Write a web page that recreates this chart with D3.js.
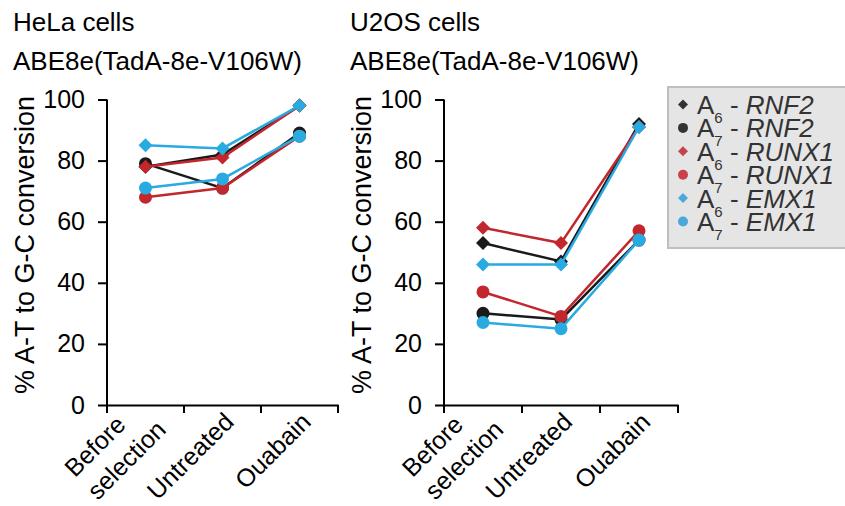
<!DOCTYPE html>
<html lang="en">
<head>
<meta charset="UTF-8">
<title>ABE8e conversion</title>
<script src="https://d3js.org/d3.v7.min.js"></script>
<style>
    body { margin: 0; background: #fff; }
    text { font-family: Arial, "Liberation Sans", sans-serif; }
    .axis path, .axis line { stroke: #000; stroke-width: 2px; }
    .axis text { font-size: 25px; fill: #000; }
</style>
</head>
<body>
<script>
    var width = 845, height = 506;

    var categories = [["Before", "selection"], ["Untreated"], ["Ouabain"]];
    var yTicks = [0, 20, 40, 60, 80, 100];

    var seriesNames = ["RNF2", "RNF2", "RUNX1", "RUNX1", "EMX1", "EMX1"];
    var seriesSites = ["6", "7", "6", "7", "6", "7"];
    var seriesShapes = ["diamond", "circle", "diamond", "circle", "diamond", "circle"];
    var seriesColors = ["#1a1a1a", "#1a1a1a", "#c1272d", "#c1272d", "#29abe2", "#29abe2"];
    var legendColors = ["#333333", "#333333", "#c8424c", "#c8424c", "#4aa9da", "#4aa9da"];

    // HeLa cells
    var helaA6RNF2 = [78, 82, 98];
    var helaA7RNF2 = [79, 71, 89];
    var helaA6RUNX1 = [78, 81, 98];
    var helaA7RUNX1 = [68, 71, 88];
    var helaA6EMX1 = [85, 84, 98];
    var helaA7EMX1 = [71, 74, 88];

    // U2OS cells
    var u2osA6RNF2 = [53, 47, 92];
    var u2osA7RNF2 = [30, 28, 54];
    var u2osA6RUNX1 = [58, 53, 91];
    var u2osA7RUNX1 = [37, 29, 57];
    var u2osA6EMX1 = [46, 46, 91];
    var u2osA7EMX1 = [27, 25, 54];

    var panels = [
        {title: "HeLa cells", left: 107, right: 338,
         series: [helaA6RNF2, helaA7RNF2, helaA6RUNX1, helaA7RUNX1, helaA6EMX1, helaA7EMX1]},
        {title: "U2OS cells", left: 444, right: 678,
         series: [u2osA6RNF2, u2osA7RNF2, u2osA6RUNX1, u2osA7RUNX1, u2osA6EMX1, u2osA7EMX1]}
    ];

    var svg = d3.select("body").append("svg")
        .attr("width", width)
        .attr("height", height);

    var y = d3.scaleLinear().domain([0, 100]).range([405, 99.5]);

    var diamond = d3.symbol().type(d3.symbolSquare).size(98);

    panels.forEach(function(p) {
        var x = d3.scaleBand()
            .domain(d3.range(categories.length))
            .range([p.left, p.right]);

        var titleX = p.left - 94;
        svg.append("text").attr("x", titleX).attr("y", 31)
            .style("font-size", "26px").text(p.title);
        svg.append("text").attr("x", titleX).attr("y", 70)
            .style("font-size", "26px").text("ABE8e(TadA-8e-V106W)");

        svg.append("text")
            .attr("transform", "translate(" + (p.left - 73) + ",245) rotate(-90)")
            .attr("text-anchor", "middle")
            .style("font-size", "27px")
            .text("% A-T to G-C conversion");

        var yAxis = svg.append("g").attr("class", "axis")
            .attr("transform", "translate(" + p.left + ",0)")
            .call(d3.axisLeft(y).tickValues(yTicks).tickSize(9).tickSizeOuter(0).tickPadding(13));
        yAxis.select(".domain").attr("d", "M0," + y(100) + "V" + y(0));

        var xAxis = svg.append("g").attr("class", "axis")
            .attr("transform", "translate(0,405)")
            .call(d3.axisBottom(x).tickValues([]).tickSizeOuter(0));
        xAxis.selectAll(".tk").data(d3.range(categories.length + 1)).enter()
            .append("line").attr("class", "tk")
            .attr("x1", function(i) { return p.left + i * x.step(); })
            .attr("x2", function(i) { return p.left + i * x.step(); })
            .attr("y1", 0).attr("y2", 8);

        categories.forEach(function(lines, i) {
            var cx = x(i) + x.bandwidth() / 2;
            var g = svg.append("text")
                .attr("transform", "translate(" + cx + ",405) rotate(-45)")
                .style("font-size", "25px");
            if (lines.length === 1) {
                g.attr("text-anchor", "end")
                    .append("tspan").attr("x", -4).attr("y", 22).text(lines[0]);
            } else {
                var spans = lines.map(function(l, k) {
                    return g.append("tspan").attr("y", k === 0 ? 2 : 34).text(l);
                });
                var w = d3.max(spans, function(s) { return s.node().getComputedTextLength(); });
                spans.forEach(function(s) { s.attr("x", -3 - w); });
            }
        });

        var line = d3.line()
            .x(function(d, i) { return x(i) + x.bandwidth() / 2; })
            .y(function(d) { return y(d); });

        p.series.forEach(function(values, s) {
            var grp = svg.append("g");
            grp.append("path")
                .attr("d", line(values))
                .attr("fill", "none")
                .attr("stroke", seriesColors[s])
                .attr("stroke-width", 2.5);
            var marks = grp.selectAll(".m").data(values).enter();
            if (seriesShapes[s] === "circle") {
                marks.append("circle")
                    .attr("cx", function(d, i) { return x(i) + x.bandwidth() / 2; })
                    .attr("cy", function(d) { return y(d); })
                    .attr("r", 6.5)
                    .attr("fill", seriesColors[s]);
            } else {
                marks.append("path")
                    .attr("d", diamond)
                    .attr("transform", function(d, i) {
                        return "translate(" + (x(i) + x.bandwidth() / 2) + "," + y(d) + ") rotate(45)";
                    })
                    .attr("fill", seriesColors[s]);
            }
        });
    });

    // legend
    var legend = svg.append("g");
    legend.append("rect")
        .attr("x", 668).attr("y", 87)
        .attr("width", 190).attr("height", 161)
        .attr("fill", "#e5e5e5")
        .attr("stroke", "#bfbfbf")
        .attr("stroke-width", 2);

    var smallDiamond = d3.symbol().type(d3.symbolSquare).size(50);
    seriesNames.forEach(function(name, s) {
        var base = 114 + s * 23.4;
        if (seriesShapes[s] === "circle") {
            legend.append("circle").attr("cx", 683).attr("cy", base - 9.5).attr("r", 5)
                .attr("fill", legendColors[s]);
        } else {
            legend.append("path").attr("d", smallDiamond)
                .attr("transform", "translate(683," + (base - 9.5) + ") rotate(45)")
                .attr("fill", legendColors[s]);
        }
        var t = legend.append("text").attr("x", 697).attr("y", base)
            .style("font-size", "26px").attr("fill", "#333");
        t.append("tspan").text("A");
        t.append("tspan").attr("dy", 9).style("font-size", "15px").text(seriesSites[s]);
        t.append("tspan").attr("dy", -9).text(" - ");
        t.append("tspan").style("font-style", "italic").text(name);
    });
</script>
</body>
</html>
